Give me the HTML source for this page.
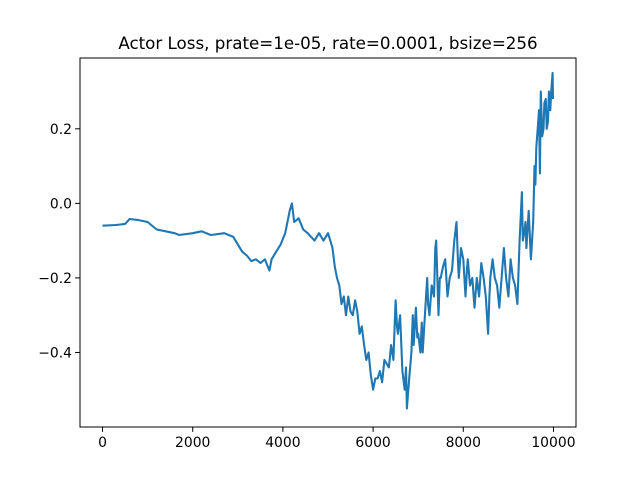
<!DOCTYPE html>
<html><head><meta charset="utf-8"><style>
html,body{margin:0;padding:0;background:#fff;width:640px;height:480px;overflow:hidden}
svg{display:block;font-family:"DejaVu Sans","Liberation Sans",sans-serif}
</style></head><body>
<svg id="chart" width="640" height="480" viewBox="0 0 640 480">
<rect width="640" height="480" fill="#fff"/>
<text x="328" y="49" text-anchor="middle" font-size="16.7">Actor Loss, prate=1e-05, rate=0.0001, bsize=256</text>
<g id="plot"></g>
<rect x="80" y="58" width="496" height="369" fill="none" stroke="#000" stroke-width="1"/>
</svg>
<script>
const xsData=[0,300,500,600,800,1000,1200,1400,1600,1700,2000,2200,2400,2700,2900,3000,3100,3200,3300,3400,3500,3600,3650,3700,3750,3850,3950,4050,4150,4200,4250,4350,4450,4550,4700,4800,4900,5000,5050,5100,5150,5200,5250,5300,5350,5400,5450,5500,5550,5600,5650,5700,5750,5800,5850,5900,5950,6000,6050,6100,6150,6200,6250,6300,6350,6400,6450,6500,6530,6550,6600,6650,6700,6730,6750,6780,6800,6850,6880,6900,6950,6980,7000,7050,7080,7100,7150,7200,7220,7250,7300,7350,7380,7400,7450,7480,7500,7550,7600,7650,7700,7750,7800,7850,7880,7900,7950,8000,8050,8080,8100,8150,8200,8250,8300,8350,8400,8450,8500,8550,8580,8600,8650,8700,8750,8800,8850,8900,8950,9000,9050,9100,9150,9200,9250,9300,9320,9350,9380,9400,9450,9500,9550,9580,9600,9620,9650,9680,9700,9720,9750,9780,9800,9830,9850,9880,9900,9930,9950,9980,9990,9999];
const ysData=[-0.06,-0.058,-0.055,-0.042,-0.045,-0.05,-0.07,-0.075,-0.08,-0.085,-0.08,-0.075,-0.085,-0.08,-0.09,-0.11,-0.13,-0.14,-0.155,-0.15,-0.16,-0.15,-0.165,-0.18,-0.15,-0.13,-0.11,-0.08,-0.02,0.0,-0.05,-0.04,-0.07,-0.08,-0.1,-0.08,-0.1,-0.08,-0.1,-0.12,-0.17,-0.2,-0.22,-0.27,-0.25,-0.3,-0.25,-0.29,-0.3,-0.26,-0.29,-0.35,-0.33,-0.38,-0.42,-0.4,-0.46,-0.5,-0.47,-0.47,-0.45,-0.48,-0.42,-0.43,-0.44,-0.38,-0.42,-0.26,-0.33,-0.35,-0.3,-0.45,-0.5,-0.44,-0.55,-0.5,-0.47,-0.4,-0.3,-0.38,-0.28,-0.36,-0.35,-0.4,-0.32,-0.4,-0.3,-0.2,-0.27,-0.3,-0.22,-0.25,-0.12,-0.1,-0.3,-0.2,-0.2,-0.17,-0.15,-0.25,-0.2,-0.18,-0.1,-0.05,-0.15,-0.2,-0.12,-0.15,-0.25,-0.18,-0.15,-0.22,-0.2,-0.28,-0.2,-0.25,-0.16,-0.2,-0.25,-0.35,-0.25,-0.2,-0.15,-0.2,-0.22,-0.28,-0.2,-0.12,-0.2,-0.25,-0.15,-0.2,-0.22,-0.27,-0.1,0.03,-0.1,-0.08,-0.05,-0.12,-0.02,-0.15,-0.05,0.1,0.05,0.15,0.2,0.25,0.08,0.3,0.18,0.2,0.27,0.28,0.2,0.22,0.3,0.25,0.3,0.35,0.28];
const xTicks=[0,2000,4000,6000,8000,10000];
const yTicks=[-0.4,-0.2,0.0,0.2];
const yTickLabels=["\u22120.4","\u22120.2","0.0","0.2"];
const L=80,R=576,T=58,B=427,xmin=-500,xmax=10500,ymin=-0.6,ymax=0.39;
const sx=v=>L+(v-xmin)/(xmax-xmin)*(R-L);
const sy=v=>B-(v-ymin)/(ymax-ymin)*(B-T);
const ns="http://www.w3.org/2000/svg",g=document.getElementById('plot');
function mk(t,a){const e=document.createElementNS(ns,t);for(const k in a)e.setAttribute(k,a[k]);g.appendChild(e);return e;}
xTicks.forEach(v=>{
 const l=mk('line',{x1:sx(v),x2:sx(v),y1:B,y2:B+4.9,stroke:'#000'});
 
 
 const t=mk('text',{x:sx(v),y:B+20,'text-anchor':'middle','font-size':'13.9'});t.textContent=String(v);
 
 
});
yTicks.forEach((v,i)=>{
 const l=mk('line',{x1:L-4.9,x2:L,y1:sy(v),y2:sy(v),stroke:'#000'});
 
 
 const t=mk('text',{x:L-8,y:sy(v)+5,'text-anchor':'end','font-size':'13.9'});t.textContent=yTickLabels[i];
 
 
});
const p=mk('polyline',{points:xsData.map((x,i)=>sx(x).toFixed(1)+','+sy(ysData[i]).toFixed(1)).join(' '),fill:'none',stroke:'#1f77b4','stroke-width':'2.1','stroke-linejoin':'round'});


</script>
</body></html>
